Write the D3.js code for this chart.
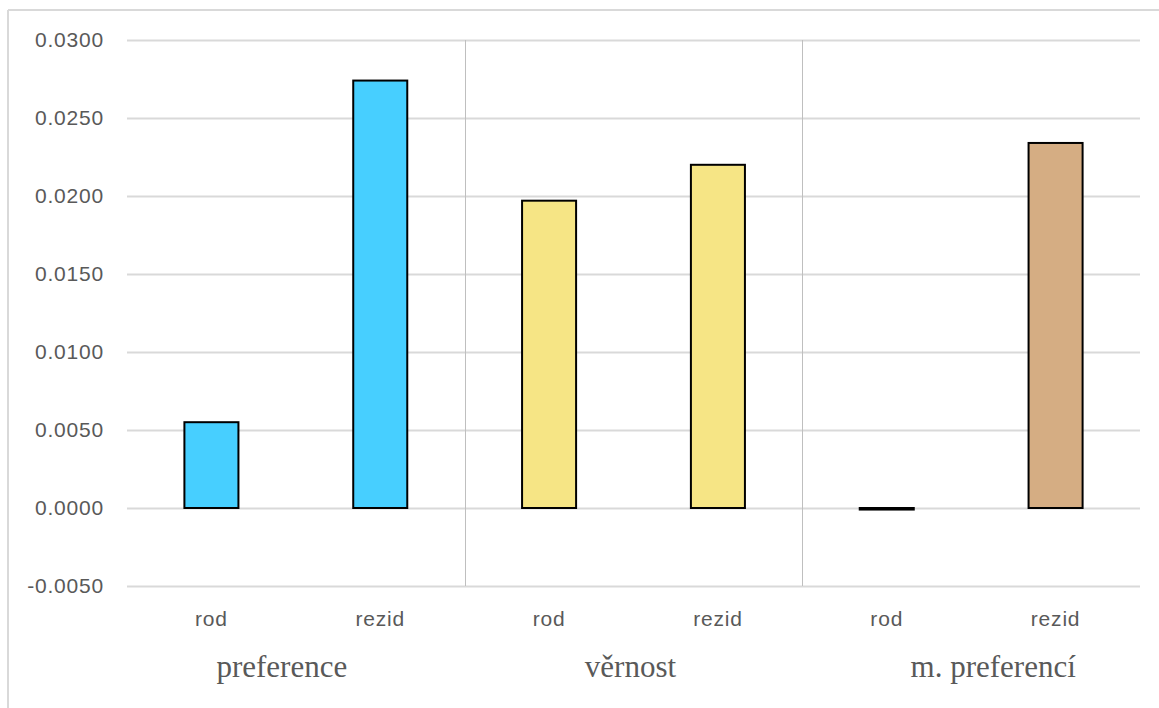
<!DOCTYPE html>
<html>
<head>
<meta charset="utf-8">
<script src="https://cdn.jsdelivr.net/npm/d3@7"></script>
<style>
  html, body { margin: 0; padding: 0; background: #fff; }
  svg { display: block; }
</style>
</head>
<body>
<svg id="chart" width="1159" height="708"></svg>
<script>
// Groups, their sub-categories and values
const groups = ["preference", "věrnost", "m. preferencí"];
const subCategories = ["rod", "rezid"];
const preferenceValues = [0.0055, 0.0274];
const vernostValues = [0.0197, 0.0220];
const mPreferenciValues = [-0.0001, 0.0234];
const groupColors = ["#47CFFF", "#F6E585", "#D5AD83"];
const yTicks = [-0.005, 0, 0.005, 0.01, 0.015, 0.02, 0.025, 0.03];
const groupLabelShift = [-14, -3, 22];

const seriesByGroup = [preferenceValues, vernostValues, mPreferenciValues];
const rows = [];
groups.forEach((g, gi) => {
  subCategories.forEach((c, ci) => {
    rows.push({ key: g + "|" + c, group: g, gi, cat: c, value: seriesByGroup[gi][ci] });
  });
});

const svg = d3.select("#chart");
const margin = { left: 127, right: 19, top: 40, bottom: 122 };
const W = 1159, H = 708;
const sansFont = "'Liberation Sans', Arial, sans-serif";
const serifFont = "'Liberation Serif', 'Times New Roman', serif";

// outer frame (top and left edges)
svg.append("line").attr("x1", 8).attr("x2", 1159).attr("y1", 10).attr("y2", 10)
  .attr("stroke", "#d9d9d9").attr("stroke-width", 2);
svg.append("line").attr("x1", 8).attr("x2", 8).attr("y1", 10).attr("y2", 708)
  .attr("stroke", "#d9d9d9").attr("stroke-width", 2);

const x = d3.scaleBand()
  .domain(rows.map(d => d.key))
  .range([margin.left, W - margin.right])
  .paddingInner(0.68).paddingOuter(0.34);

const y = d3.scaleLinear()
  .domain([-0.005, 0.03])
  .range([H - margin.bottom, margin.top]);

// gridlines + tick labels
const yAxis = d3.axisLeft(y).tickValues(yTicks)
  .tickFormat(d => d3.format(".4f")(d).replace("−", "-"))
  .tickSize(-(W - margin.right - margin.left)).tickPadding(23);
const ga = svg.append("g").attr("transform", `translate(${margin.left},0)`).call(yAxis);
ga.select(".domain").remove();
ga.selectAll(".tick line").attr("stroke", "#d9d9d9").attr("stroke-width", 2);
ga.selectAll(".tick text")
  .attr("fill", "#595959")
  .style("font-family", sansFont)
  .style("font-size", "21px")
  .style("letter-spacing", "0.8px");

// group separators
const groupWidth = (W - margin.right - margin.left) / groups.length;
for (let i = 1; i < groups.length; i++) {
  const gx = Math.round(margin.left + i * groupWidth) + 0.5;
  svg.append("line").attr("x1", gx).attr("x2", gx)
    .attr("y1", y(0.03)).attr("y2", y(-0.005))
    .attr("stroke", "#bfbfbf").attr("stroke-width", 1);
}

// bars
svg.append("g").selectAll("rect").data(rows).join("rect")
  .attr("x", d => x(d.key))
  .attr("width", x.bandwidth())
  .attr("y", d => y(Math.max(0, d.value)))
  .attr("height", d => Math.abs(y(d.value) - y(0)))
  .attr("fill", d => groupColors[d.gi])
  .attr("stroke", "#000")
  .attr("stroke-width", 2);

// sub-category labels
svg.append("g").selectAll("text").data(rows).join("text")
  .attr("x", d => x(d.key) + x.bandwidth() / 2)
  .attr("y", 626)
  .attr("text-anchor", "middle")
  .attr("fill", "#595959")
  .style("font-family", sansFont)
  .style("font-size", "21px")
  .style("letter-spacing", "0.8px")
  .text(d => d.cat);

// group labels
svg.append("g").selectAll("text").data(groups).join("text")
  .attr("x", (d, i) => margin.left + (i + 0.5) * groupWidth + groupLabelShift[i])
  .attr("y", 677)
  .attr("text-anchor", "middle")
  .attr("fill", "#595959")
  .style("font-family", serifFont)
  .style("font-size", "31px")
  .text(d => d);
</script>
</body>
</html>
